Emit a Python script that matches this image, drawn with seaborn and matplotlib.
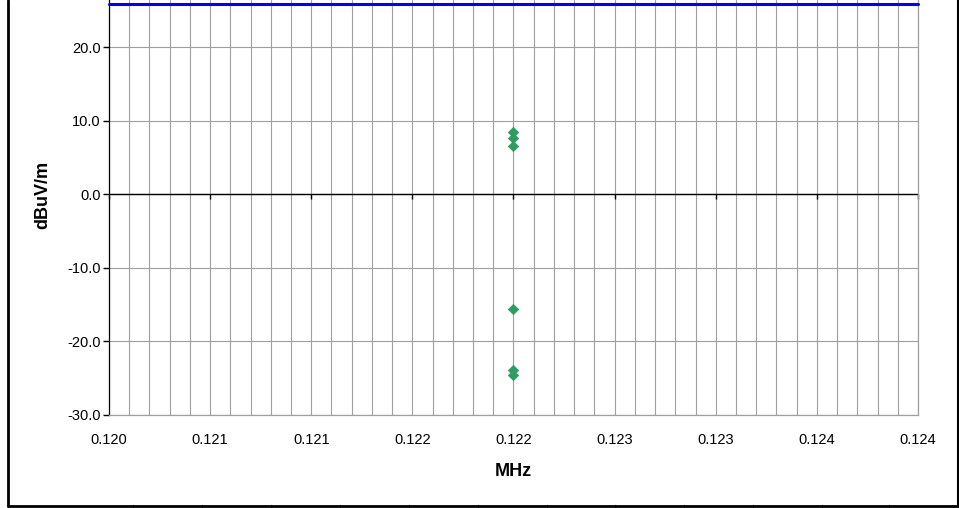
import matplotlib
matplotlib.use("Agg")
import matplotlib.pyplot as plt
import seaborn as sns
import numpy as np
import pandas as pd
from matplotlib.lines import Line2D

# ---- data ----
freq_mhz = [0.1220, 0.1220, 0.1220, 0.1220, 0.1220, 0.1220]
level_dbuv = [8.4, 7.7, 6.6, -15.6, -23.9, -24.5]
limit_freq = [0.1200, 0.1240]
limit_level = [25.8, 25.8]
xtick_vals = [0.1200, 0.1205, 0.1210, 0.1215, 0.1220, 0.1225, 0.1230, 0.1235, 0.1240]
xtick_labels = ["0.120", "0.121", "0.121", "0.122", "0.122", "0.123", "0.123", "0.124", "0.124"]
ytick_vals = [-30, -20, -10, 0, 10, 20]

sns.set_theme(style="white")
plt.rcParams['font.family'] = ['Liberation Sans', 'DejaVu Sans']
plt.rcParams['xtick.color'] = 'black'
plt.rcParams['ytick.color'] = 'black'

W, H = 959, 508
fig = plt.figure(figsize=(W / 100, H / 100), dpi=100)
ax_l, ax_r, ax_b, ax_t = 109, 918, 415, 0
ax = fig.add_axes([ax_l / W, (H - ax_b) / H, (ax_r - ax_l) / W, (ax_b - ax_t) / H])

df = pd.DataFrame({"MHz": freq_mhz, "dBuV/m": level_dbuv})
lim = pd.DataFrame({"MHz": limit_freq, "dBuV/m": limit_level})

ax.set_xlim(0.1200, 0.1240)
ax.set_ylim(-30, 26.4)

# grid
minor = np.arange(0.1200, 0.12401, 0.0001)
ax.set_xticks(minor, minor=True)
ax.set_xticks(xtick_vals)
ax.set_xticklabels(xtick_labels)
ax.set_yticks(ytick_vals)
ax.set_yticklabels([f"{v:.1f}" for v in ytick_vals])
gc = "#a0a0a0"
ax.grid(True, which="minor", axis="x", color=gc, linewidth=0.8)
ax.grid(True, which="major", axis="x", color=gc, linewidth=0.8)
ax.grid(True, which="major", axis="y", color=gc, linewidth=0.8)
ax.set_axisbelow(True)

# zero-crossing category axis with downward tick marks (Excel style)
ax.axhline(0, color="black", linewidth=1.0, zorder=2)
ax.vlines(xtick_vals, -0.6, 0, colors="black", linewidth=1.0, zorder=2, clip_on=False)

sns.lineplot(data=lim, x="MHz", y="dBuV/m", ax=ax, color="#0000EE", linewidth=2.2,
             clip_on=False, zorder=4)
sns.scatterplot(data=df, x="MHz", y="dBuV/m", ax=ax, marker="D", s=28, color="#2E9B62",
                edgecolor="#2E9B62", linewidth=0.5, zorder=5)

# spines
ax.spines["top"].set_visible(False)
ax.spines["right"].set_color(gc)
ax.spines["bottom"].set_color(gc)
ax.spines["left"].set_color("black")
for s in ["left", "right", "bottom"]:
    ax.spines[s].set_linewidth(0.9)

ax.tick_params(axis="x", which="both", length=0, labelsize=10.5, pad=13, labelcolor="black")
ax.tick_params(axis="y", which="major", direction="out", length=4, width=1, labelsize=10.5,
               pad=2, left=True, color="black", labelcolor="black")

ax.set_xlabel("MHz", fontsize=13, fontweight="bold", color="black")
ax.set_ylabel("dBuV/m", fontsize=13, fontweight="bold", color="black")
ax.xaxis.set_label_coords((513 - ax_l) / (ax_r - ax_l), -(463 - ax_b) / (ax_b - ax_t))
ax.yaxis.set_label_coords(-(109 - 51) / (ax_r - ax_l), (ax_b - 195) / (ax_b - ax_t))

# figure frame
def fl(x0, y0, x1, y1, lw=2.0):
    fig.add_artist(Line2D([x0 / W, x1 / W], [1 - y0 / H, 1 - y1 / H], color="black",
                          linewidth=lw, transform=fig.transFigure))

fl(8, 0, 8, 506)
fl(958, 0, 958, 506, 1.5)
fl(8, 506, 959, 506)
for xs in [133, 202, 271, 340, 409, 478, 547, 615, 684, 753, 822, 889]:
    fl(xs, 505, xs, 508, 1.0)

fig.savefig("out.png", dpi=100)
